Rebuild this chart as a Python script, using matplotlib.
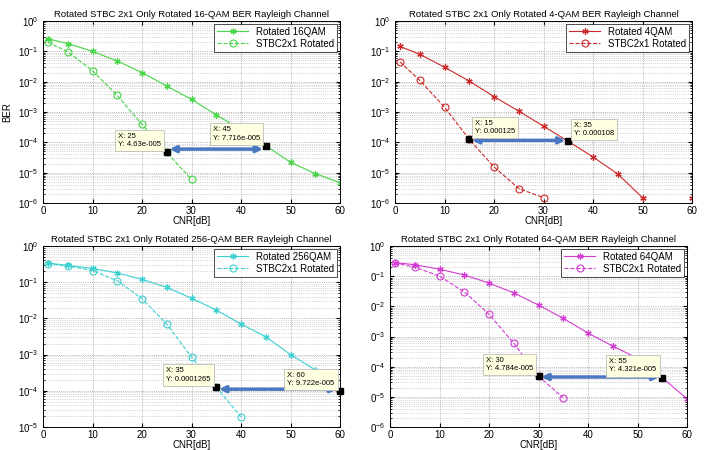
import numpy as np
import matplotlib
matplotlib.use('Agg')
import matplotlib.pyplot as plt
from matplotlib.patches import Rectangle

plt.rcParams['font.family'] = ['Liberation Sans', 'DejaVu Sans']
plt.rcParams['mathtext.fontset'] = 'custom'
plt.rcParams['mathtext.rm'] = 'Liberation Sans'
plt.rcParams['mathtext.default'] = 'regular'

# CNR points (dB)
cnr_rot = [1, 5, 10, 15, 20, 25, 30, 35, 40, 45, 50, 55, 60]
cnr_stbc_16 = [1, 5, 10, 15, 20, 25, 30]
cnr_stbc_4 = [1, 5, 10, 15, 20, 25, 30]
cnr_stbc_256 = [1, 5, 10, 15, 20, 25, 30, 35, 40]
cnr_stbc_64 = [1, 5, 10, 15, 20, 25, 30, 35]

# BER values
ber_rot_16 = [0.26, 0.18, 0.1, 0.048, 0.02, 7.2e-3, 2.6e-3, 8.1e-4, 2.6e-4, 7.716e-5, 2.2e-5, 9.3e-6, 4.7e-6]
ber_stbc_16 = [0.2, 0.097, 0.023, 3.5e-3, 3.9e-4, 4.63e-5, 6e-6]
ber_rot_4 = [0.145, 0.08, 0.03, 0.0105, 3.2e-3, 1.07e-3, 3.4e-4, 1.08e-4, 3.3e-5, 9e-6, 1.5e-6, np.nan, 1.5e-6]
ber_stbc_4 = [0.045, 0.011, 1.45e-3, 1.25e-4, 1.55e-5, 3e-6, 1.5e-6]
ber_rot_256 = [0.34, 0.29, 0.24, 0.18, 0.12, 0.072, 0.036, 0.017, 7.0e-3, 3.1e-3, 1.0e-3, 3.8e-4, 9.722e-5]
ber_stbc_256 = [0.32, 0.28, 0.21, 0.11, 0.035, 7e-3, 8.5e-4, 1.265e-4, 1.9e-5]
ber_rot_64 = [0.28, 0.24, 0.17, 0.11, 0.059, 0.028, 0.011, 4.0e-3, 1.3e-3, 4.8e-4, 1.9e-4, 4.321e-5, 8.6e-6]
ber_stbc_64 = [0.27, 0.2, 0.10, 0.03, 5.5e-3, 6e-4, 4.784e-5, 9.3e-6]

titles = ['Rotated STBC 2x1 Only Rotated 16-QAM BER Rayleigh Channel',
          'Rotated STBC 2x1 Only Rotated 4-QAM BER Rayleigh Channel',
          'Rotated STBC 2x1 Only Rotated 256-QAM BER Rayleigh Channel',
          'Rotated STBC 2x1 Only Rotated 64-QAM BER Rayleigh Channel']
legend_rot = ['Rotated 16QAM', 'Rotated 4QAM', 'Rotated 256QAM', 'Rotated 64QAM']
colors = ['#45d545', '#cc2a2a', '#3cd0d0', '#d23cd2']
ymins = [1e-6, 1e-6, 1e-5, 1e-6]

# data tips: (x1, y1, x2, y2) and their labels
tip_x1 = [25, 15, 35, 30]
tip_y1 = [4.63e-5, 1.25e-4, 1.265e-4, 4.784e-5]
tip_x2 = [45, 35, 60, 55]
tip_y2 = [7.716e-5, 1.08e-4, 9.722e-5, 4.321e-5]
tip_lbl1 = ['X: 25\nY: 4.63e-005', 'X: 15\nY: 0.000125', 'X: 35\nY: 0.0001265', 'X: 30\nY: 4.784e-005']
tip_lbl2 = ['X: 45\nY: 7.716e-005', 'X: 35\nY: 0.000108', 'X: 60\nY: 9.722e-005', 'X: 55\nY: 4.321e-005']
tip_side = ['left', 'right', 'left', 'left']

rot_x = [cnr_rot] * 4
rot_y = [ber_rot_16, ber_rot_4, ber_rot_256, ber_rot_64]
stbc_x = [cnr_stbc_16, cnr_stbc_4, cnr_stbc_256, cnr_stbc_64]
stbc_y = [ber_stbc_16, ber_stbc_4, ber_stbc_256, ber_stbc_64]

W, H = 704, 450
fig = plt.figure(figsize=(7.04, 4.5), dpi=100, facecolor='w')
positions = [(43, 21, 297, 182), (395, 21, 297, 182), (43, 246, 297, 181), (390, 246, 297, 181)]

for i in range(4):
    l, t, w, h = positions[i]
    ax = fig.add_axes([l / W, 1 - (t + h) / H, w / W, h / H])
    c = colors[i]
    ax.plot(rot_x[i], rot_y[i], '-', color=c, lw=0.8, marker=(6, 2, 0), ms=4.5, mew=0.9,
            label=legend_rot[i])
    ax.plot(stbc_x[i], stbc_y[i], '--', color=c, lw=0.8, marker='o', ms=5, mfc='none', mew=0.8,
            label='STBC2x1 Rotated')
    ax.set_yscale('log')
    ax.set_xlim(0, 60)
    ax.set_ylim(ymins[i], 1)
    ax.set_xticks(range(0, 61, 10))
    ax.grid(True, which='major', ls=':', color='#9a9a9a', lw=0.6)
    ax.grid(True, which='minor', axis='y', ls=':', color='#b4b4b4', lw=0.5)
    ax.tick_params(which='both', direction='in', labelsize=7, top=True, right=True, length=3)
    ax.tick_params(which='minor', length=1.5)
    ax.tick_params(axis='x', pad=2)
    for s in ax.spines.values():
        s.set_linewidth(0.7)
    ax.set_title(titles[i], fontsize=6.8, pad=3)
    ax.set_xlabel('CNR[dB]', fontsize=7, labelpad=0)
    if i == 0:
        ax.set_ylabel('BER', fontsize=7)
    leg = ax.legend(loc='upper right', fontsize=7, frameon=True, fancybox=False,
                    borderaxespad=0.3, handlelength=3.2, borderpad=0.3, labelspacing=0.2)
    leg.get_frame().set_edgecolor('black')
    leg.get_frame().set_linewidth(0.6)

    # double-headed arrow between the two data tips
    ymid = np.sqrt(tip_y1[i] * tip_y2[i])
    ax.annotate('', xy=(tip_x2[i], ymid), xytext=(tip_x1[i], ymid),
                arrowprops=dict(arrowstyle='<|-|>', color='#4a78c0', lw=2.5, mutation_scale=9,
                                shrinkA=2, shrinkB=2), zorder=5)
    for x, y, lbl in [(tip_x1[i], tip_y1[i], tip_lbl1[i]), (tip_x2[i], tip_y2[i], tip_lbl2[i])]:
        ax.plot([x], [y], 's', color='black', ms=4, zorder=6, clip_on=False)
        if tip_side[i] == 'left':
            off, ha = (-4, 3), 'right'
        else:
            off, ha = (4, 3), 'left'
        ax.annotate(lbl, xy=(x, y), xytext=off, textcoords='offset points', ha=ha, va='bottom',
                    multialignment='left', fontsize=5.5, linespacing=1.3, zorder=7,
                    annotation_clip=False,
                    bbox=dict(boxstyle='square,pad=0.4', fc='#ffffe1', ec='#bdbdbd', lw=0.6))

# the bottom-right panel is cropped on its left side in the source image
fig.patches.append(Rectangle((345 / W, 0), 26 / W, 0.5, transform=fig.transFigure,
                             facecolor='white', edgecolor='none', zorder=10))

fig.savefig('out.png', dpi=100, facecolor='w')
